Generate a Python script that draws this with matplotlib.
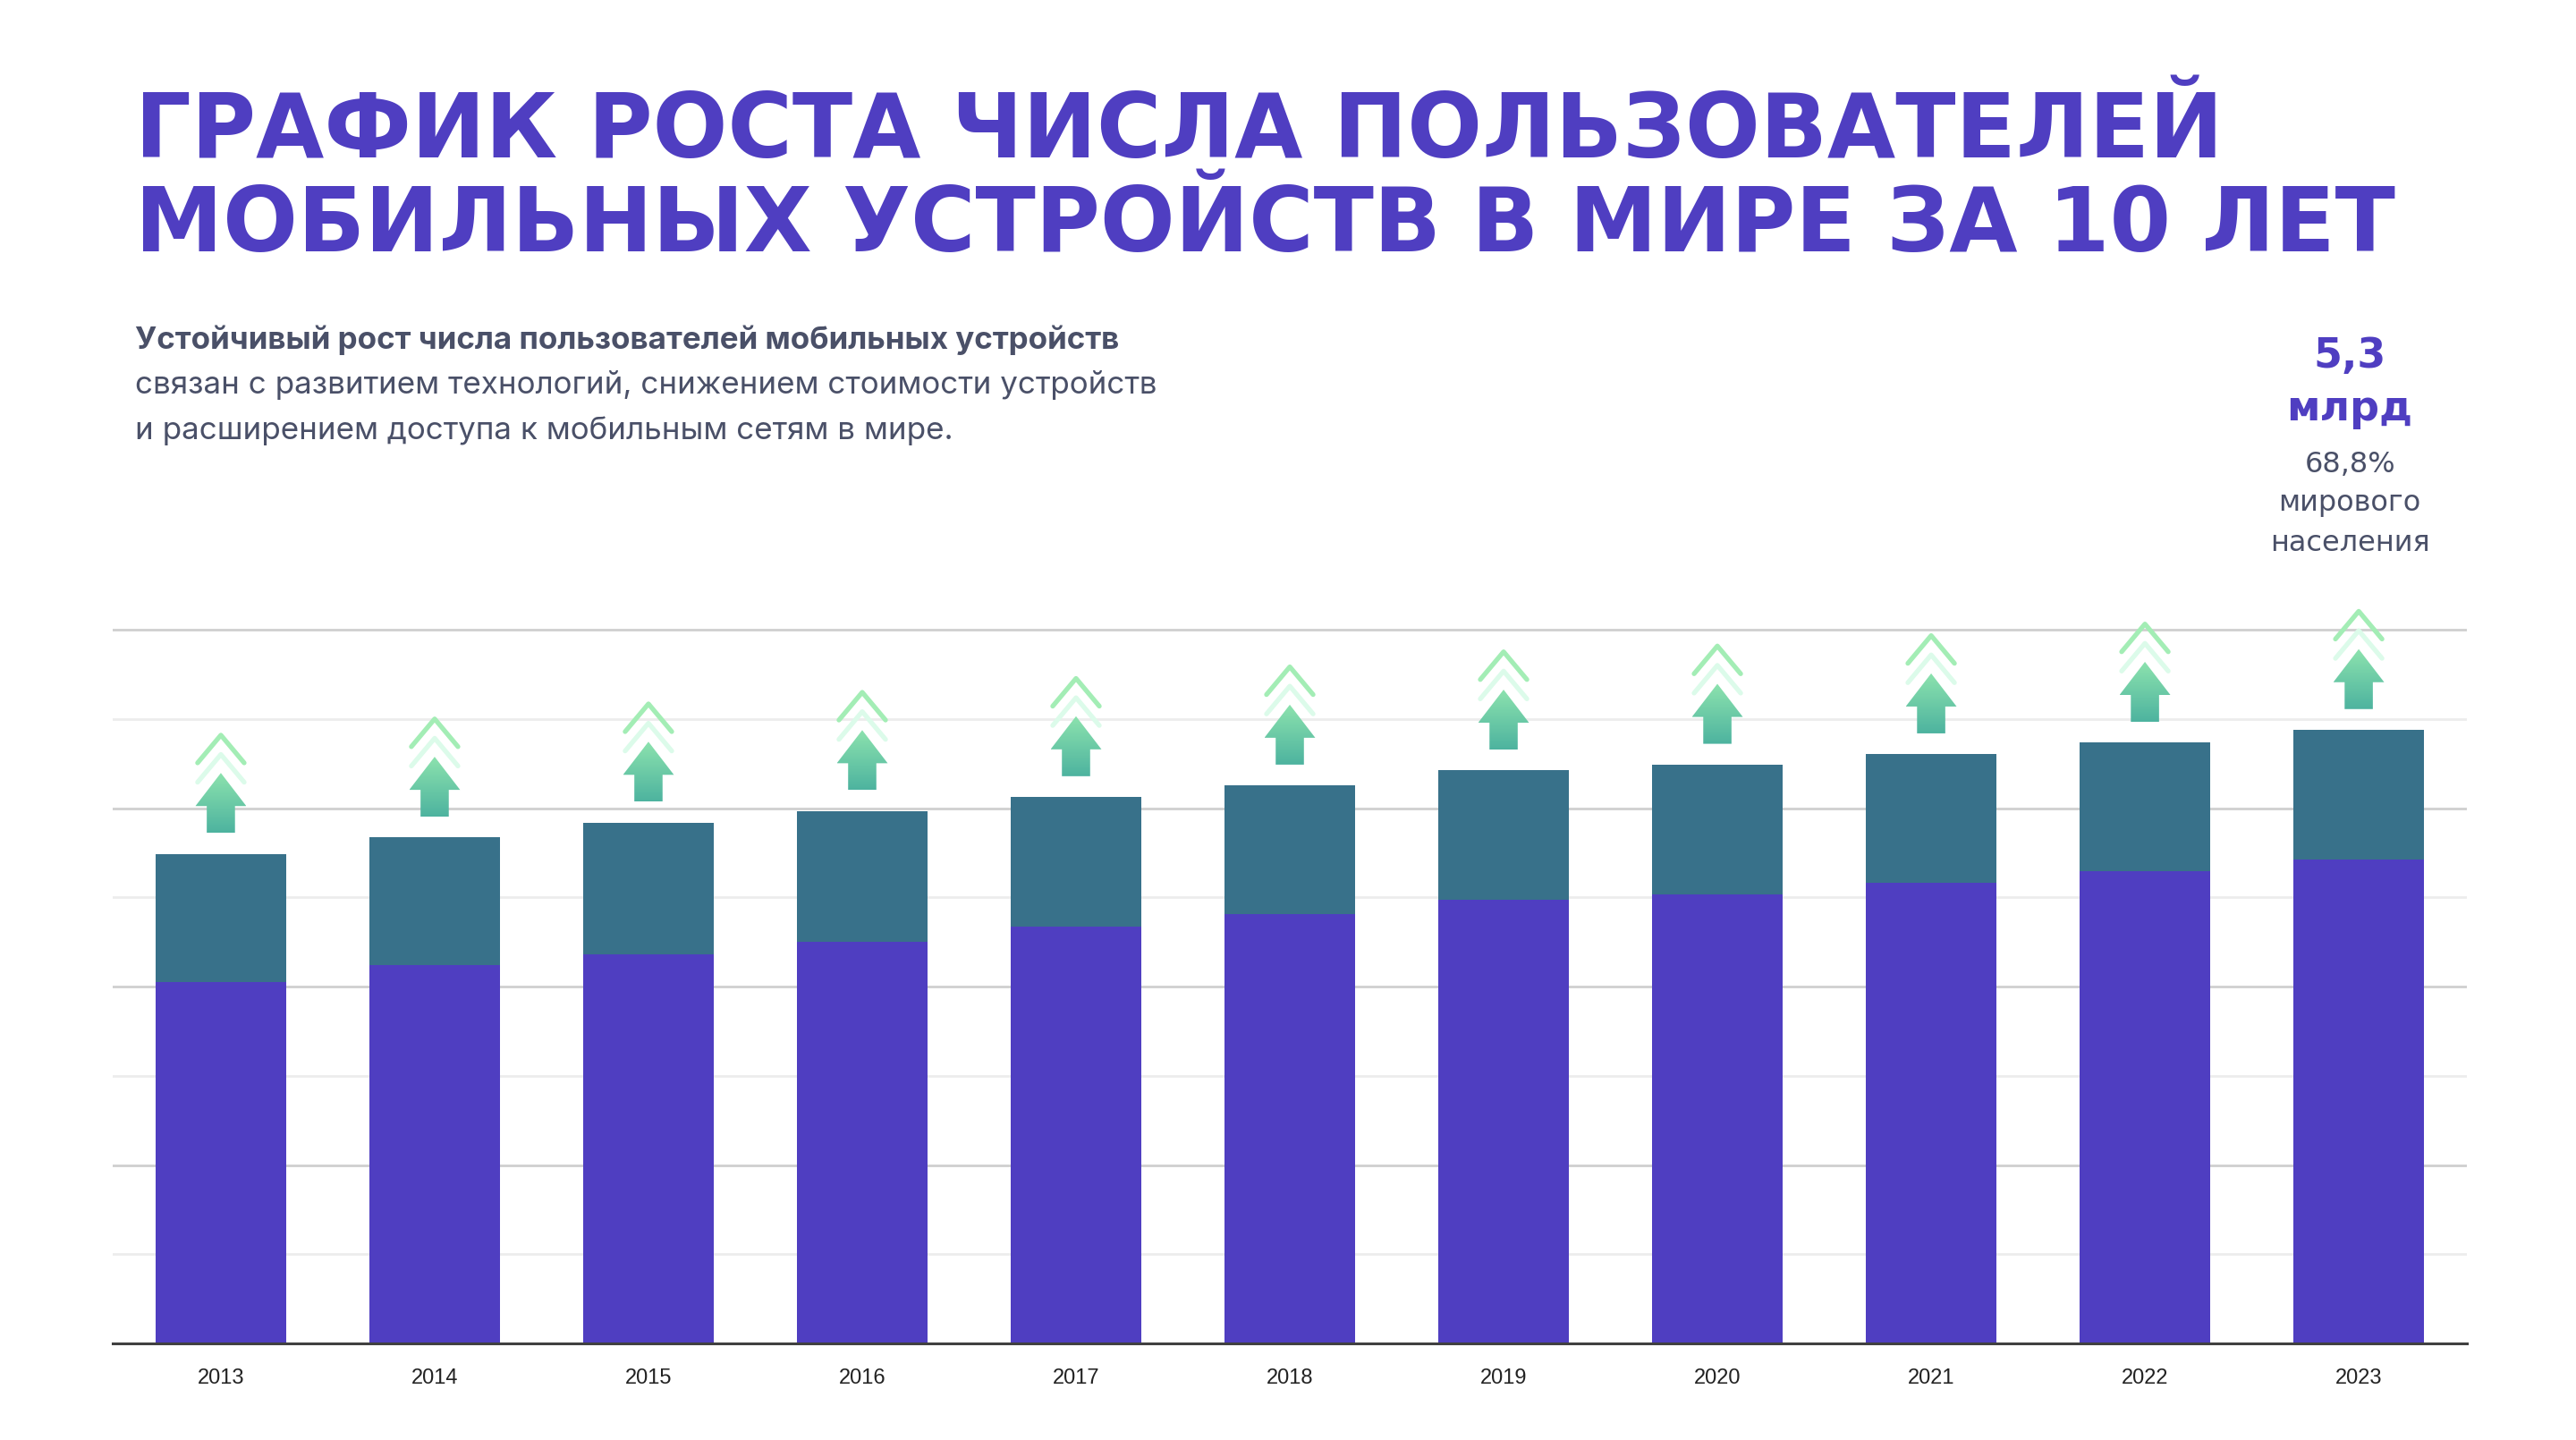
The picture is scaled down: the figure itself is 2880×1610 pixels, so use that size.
import numpy as np
import matplotlib
matplotlib.use('Agg')
import matplotlib.pyplot as plt
from matplotlib.patches import Polygon
from matplotlib.colors import LinearSegmentedColormap

# данные (млрд)
years = ['2013', '2014', '2015', '2016', '2017', '2018', '2019', '2020', '2021', '2022', '2023']
total = [4.23, 4.37, 4.50, 4.60, 4.72, 4.82, 4.95, 5.00, 5.09, 5.19, 5.30]
base = [3.12, 3.27, 3.36, 3.47, 3.60, 3.71, 3.83, 3.88, 3.98, 4.08, 4.18]
grid_step = 0.7705

title_lines = ['ГРАФИК РОСТА ЧИСЛА ПОЛЬЗОВАТЕЛЕЙ',
               'МОБИЛЬНЫХ УСТРОЙСТВ В МИРЕ ЗА 10 ЛЕТ']
sub_bold = 'Устойчивый рост числа пользователей мобильных устройств'
sub_lines = ['связан с развитием технологий, снижением стоимости устройств',
             'и расширением доступа к мобильным сетям в мире.']
big_num = '5,3'
big_unit = 'млрд'
note_lines = ['68,8%', 'мирового', 'населения']

purple = '#4f3ec1'
teal = '#38718a'
grey_txt = '#4a5068'

fig = plt.figure(figsize=(28.8, 16.1), dpi=100)
fig.patch.set_facecolor('white')

# заголовок
fig.text(0.0524, 0.8907, title_lines[0], fontsize=71, fontweight='bold',
         color=purple, family='DejaVu Sans', va='baseline')
fig.text(0.0524, 0.8257, title_lines[1], fontsize=71, fontweight='bold',
         color=purple, family='DejaVu Sans', va='baseline')

# подзаголовок
fig.text(0.0524, 0.7578, sub_bold, fontsize=25.2, fontweight='bold',
         color=grey_txt, family='Inter', va='baseline')
fig.text(0.0524, 0.7267, sub_lines[0], fontsize=25.2, color=grey_txt,
         family='Inter', va='baseline')
fig.text(0.0524, 0.6950, sub_lines[1], fontsize=25.2, color=grey_txt,
         family='Inter', va='baseline')

# справа
xr = 0.9122
fig.text(xr, 0.7449, big_num, fontsize=33, fontweight='bold', color=purple,
         family='DejaVu Sans', ha='center', va='baseline')
fig.text(xr, 0.7083, big_unit, fontsize=33, fontweight='bold', color=purple,
         family='DejaVu Sans', ha='center', va='baseline')
for s, yy in zip(note_lines, [0.6720, 0.6453, 0.6176]):
    fig.text(xr, yy, s, fontsize=23, color=grey_txt, family='DejaVu Sans',
             ha='center', va='baseline')

ax = fig.add_axes([0.04375, 0.0671, 0.9139, 0.5466])
x = np.arange(len(years))
total_a = np.array(total)
base_a = np.array(base)
ax.bar(x, base_a, width=0.61, color=purple, zorder=2)
ax.bar(x, total_a - base_a, width=0.61, bottom=base_a, color=teal, zorder=2)

ax.set_xlim(-0.506, 10.506)
ax.set_ylim(0, 6.8)
ax.set_yticks(grid_step * np.array([0, 2, 4, 6, 8]))
ax.set_yticks(grid_step * np.array([1, 3, 5, 7]), minor=True)
ax.yaxis.grid(True, which='major', color='#cfcfcf', linewidth=2)
ax.yaxis.grid(True, which='minor', color='#ececec', linewidth=2)
ax.set_axisbelow(True)
ax.tick_params(axis='y', which='both', length=0, labelleft=False)
ax.set_xticks(x)
ax.set_xticklabels(years, fontsize=17, color='#222222', family='Liberation Sans')
ax.tick_params(axis='x', length=0, pad=20)
for s in ['top', 'right', 'left']:
    ax.spines[s].set_visible(False)
ax.spines['bottom'].set_color('#404040')
ax.spines['bottom'].set_linewidth(2.2)

# стрелки над столбцами
arrow_cmap = LinearSegmentedColormap.from_list('arr', ['#4db39f', '#8de3ae'])
grad = np.linspace(0, 1, 256).reshape(-1, 1)
hw, sw, sl, hh = 0.119, 0.066, 0.232, 0.286
gap = 0.18
for xi, t in zip(x, total_a):
    y0 = t + gap
    tip = y0 + sl + hh
    verts = [(xi - sw, y0), (xi + sw, y0), (xi + sw, y0 + sl), (xi + hw, y0 + sl),
             (xi, tip), (xi - hw, y0 + sl), (xi - sw, y0 + sl)]
    # шевроны
    c1 = tip + 0.16
    ax.plot([xi - 0.109, xi, xi + 0.109], [c1 - 0.24, c1, c1 - 0.24],
            color='#dcfbea', lw=3.8, solid_capstyle='round',
            solid_joinstyle='round', zorder=3)
    c2 = c1 + 0.167
    ax.plot([xi - 0.109, xi, xi + 0.109], [c2 - 0.24, c2, c2 - 0.24],
            color='#a3edb5', lw=3.8, solid_capstyle='round',
            solid_joinstyle='round', zorder=3)
    poly = Polygon(verts, closed=True, facecolor='none', edgecolor='none')
    ax.add_patch(poly)
    im = ax.imshow(grad, cmap=arrow_cmap, origin='lower', aspect='auto',
                   extent=[xi - hw, xi + hw, y0, tip], zorder=4)
    im.set_clip_path(poly)

ax.set_xlim(-0.506, 10.506)
ax.set_ylim(0, 6.8)

plt.savefig('out.png', dpi=100, facecolor='white')
